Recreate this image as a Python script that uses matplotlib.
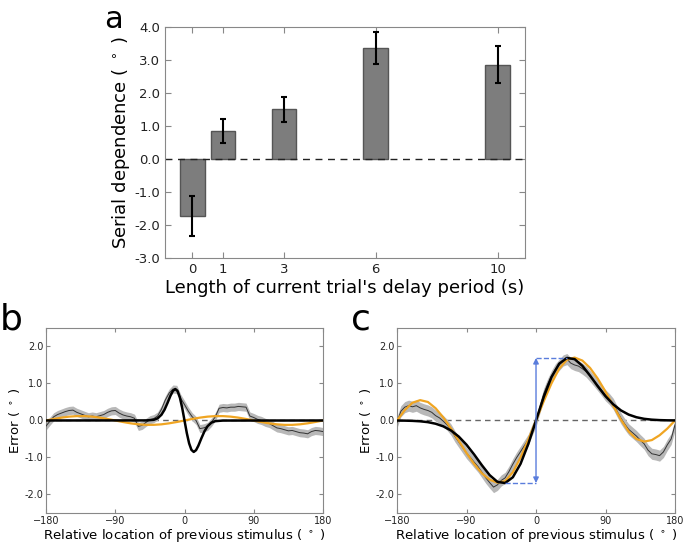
import numpy as np
import matplotlib
matplotlib.use("Agg")
import matplotlib.pyplot as plt

# ---- panel a: serial dependence vs delay length
delays = [0, 1, 3, 6, 10]
sd_mean = [-1.72, 0.85, 1.50, 3.37, 2.85]
sd_err = [0.61, 0.37, 0.38, 0.48, 0.56]

# ---- panel b / c: error vs relative location of previous stimulus
rel_loc = list(range(-180, 181, 5))
b_data = [-0.15, -0.02, 0.10, 0.16, 0.20, 0.24, 0.27, 0.28, 0.22, 0.18, 0.14, 0.10,
          0.12, 0.10, 0.13, 0.16, 0.22, 0.26, 0.27, 0.20, 0.15, 0.12, 0.10, 0.06,
          -0.16, -0.13, -0.05, 0.02, 0.05, 0.12, 0.30, 0.55, 0.74, 0.85, 0.84, 0.60,
          0.43, 0.25, 0.10, 0.00, -0.22, -0.20, -0.16, -0.05, 0.10, 0.33, 0.35, 0.34,
          0.36, 0.36, 0.38, 0.37, 0.36, 0.12, 0.08, 0.03, 0.00, -0.05, -0.08, -0.14,
          -0.20, -0.22, -0.25, -0.28, -0.27, -0.30, -0.33, -0.34, -0.36, -0.30, -0.27,
          -0.28, -0.30]
b_sem = 0.11

c_data = [-0.05, 0.25, 0.36, 0.40, 0.37, 0.40, 0.34, 0.30, 0.27, 0.22, 0.13, 0.07,
          -0.02, -0.12, -0.25, -0.43, -0.58, -0.73, -0.88, -1.00, -1.13, -1.25, -1.40,
          -1.55, -1.68, -1.80, -1.74, -1.62, -1.55, -1.38, -1.18, -1.00, -0.84, -0.68,
          -0.52, -0.25, -0.02, 0.35, 0.72, 0.98, 1.20, 1.38, 1.50, 1.62, 1.66, 1.55,
          1.50, 1.47, 1.40, 1.32, 1.20, 1.08, 0.95, 0.82, 0.68, 0.58, 0.45, 0.25, 0.06,
          -0.10, -0.24, -0.33, -0.42, -0.53, -0.63, -0.80, -0.90, -0.92, -0.95, -0.85,
          -0.66, -0.50, -0.12]
c_sem = 0.15

# model fits
b_fit_x = [-180, -50, -40, -35, -30, -26, -22, -18, -15, -12, -9, -6, -3, 0,
           3, 6, 9, 12, 15, 18, 22, 26, 30, 35, 40, 50, 180]
b_fit_y = [0.0, 0.002, 0.018, 0.058, 0.154, 0.29, 0.478, 0.682, 0.802, 0.85, 0.794, 0.618, 0.34, 0.0,
           -0.34, -0.618, -0.794, -0.85, -0.802, -0.682, -0.478, -0.29, -0.154, -0.058, -0.018, -0.002, 0.0]

fit_x10 = list(range(-180, 181, 10))
b_orange = [0, .041, .077, .104, .118, .118, .104, .077, .041, 0, -.041, -.077, -.104,
            -.118, -.118, -.104, -.077, -.041, 0, .041, .077, .104, .118, .118, .104,
            .077, .041, 0, -.041, -.077, -.104, -.118, -.118, -.104, -.077, -.041, 0]

c_black = [-0.002, -0.004, -0.010, -0.022, -0.045, -0.088, -0.159, -0.272, -0.436,
           -0.656, -0.923, -1.212, -1.478, -1.658, -1.690, -1.534, -1.170, -0.635, 0.0,
           0.635, 1.170, 1.534, 1.690, 1.658, 1.478, 1.212, 0.923, 0.656, 0.436, 0.272,
           0.159, 0.088, 0.045, 0.022, 0.010, 0.004, 0.002]
c_orange = [0.0, 0.28, 0.48, 0.55, 0.50, 0.33, 0.08, -0.22, -0.55, -0.88, -1.18, -1.43,
            -1.60, -1.68, -1.64, -1.40, -1.00, -0.52, 0.0, 0.52, 1.00, 1.40, 1.64, 1.70,
            1.62, 1.42, 1.13, 0.78, 0.40, 0.02, -0.30, -0.50, -0.57, -0.53, -0.40, -0.22, 0.0]

plt.rcParams.update({
    "font.family": "DejaVu Sans",
    "xtick.direction": "in", "ytick.direction": "in",
    "xtick.top": True, "ytick.right": True,
    "xtick.color": "#888888", "ytick.color": "#888888",
    "xtick.labelcolor": "#222222", "ytick.labelcolor": "#222222",
    "axes.edgecolor": "#888888",
})

fig = plt.figure(figsize=(6.85, 5.44), dpi=100)

# ---- a
ax = fig.add_axes([0.2409, 0.5257, 0.5255, 0.4247])
ax.bar(delays, sd_mean, width=0.8, color="#7d7d7d", edgecolor="#555555", linewidth=1)
ax.errorbar(delays, sd_mean, yerr=sd_err, fmt="none", ecolor="black", elinewidth=1.5,
            capsize=2, capthick=1.5)
ax.axhline(0, color="#222222", ls="--", lw=1, dashes=(5, 4))
ax.set_xlim(-0.9, 10.9)
ax.set_ylim(-3, 4)
ax.set_xticks(delays)
ax.set_yticks(range(-3, 5))
ax.set_yticklabels([f"{v:.1f}" for v in range(-3, 5)])
ax.tick_params(labelsize=9.5, length=4)
ax.set_xlabel("Length of current trial's delay period (s)", fontsize=13, labelpad=2)
ax.set_ylabel(r"Serial dependence ( $^\circ$ )", fontsize=13, labelpad=2)


def style_err(ax):
    ax.axhline(0, color="#666666", ls="--", lw=1, dashes=(4, 3), zorder=1)
    ax.set_xlim(-180, 180)
    ax.set_ylim(-2.5, 2.5)
    ax.set_xticks([-180, -90, 0, 90, 180])
    ax.set_yticks([-2, -1, 0, 1, 2])
    ax.set_yticklabels([f"{v:.1f}" for v in [-2, -1, 0, 1, 2]])
    ax.tick_params(labelsize=7, length=3, pad=2)
    ax.set_xlabel(r"Relative location of previous stimulus ( $^\circ$ )", fontsize=9.5, labelpad=1)
    ax.set_ylabel(r"Error ( $^\circ$ )", fontsize=9.5, labelpad=2)


# ---- b
axb = fig.add_axes([0.0672, 0.0570, 0.4043, 0.3401])
bd = np.array(b_data)
axb.fill_between(rel_loc, bd - b_sem, bd + b_sem, color="#b8b8b8", lw=0, zorder=2)
axb.plot(rel_loc, bd, color="#333333", lw=0.7, zorder=3)
axb.plot(fit_x10, b_orange, color="#f0a522", lw=1.6, zorder=4)
axb.plot(b_fit_x, b_fit_y, color="black", lw=1.8, zorder=5)
style_err(axb)

# ---- c
axc = fig.add_axes([0.5796, 0.0570, 0.4058, 0.3401])
cd = np.array(c_data)
axc.fill_between(rel_loc, cd - c_sem, cd + c_sem, color="#b8b8b8", lw=0, zorder=2)
axc.plot(rel_loc, cd, color="#333333", lw=0.7, zorder=3)
axc.plot(fit_x10, c_orange, color="#f0a522", lw=1.6, zorder=4)
axc.plot(fit_x10, c_black, color="black", lw=1.8, zorder=5)
i_max, i_min = int(np.argmax(c_black)), int(np.argmin(c_black))
blue = "#5a7ddc"
axc.plot([0, fit_x10[i_max]], [c_black[i_max]] * 2, ls="--", color=blue, lw=1, zorder=6)
axc.plot([fit_x10[i_min], 0], [c_black[i_min]] * 2, ls="--", color=blue, lw=1, zorder=6)
axc.annotate("", xy=(0, c_black[i_max]), xytext=(0, c_black[i_min]),
             arrowprops=dict(arrowstyle="<|-|>", color=blue, lw=1, mutation_scale=8,
                             shrinkA=0, shrinkB=0), zorder=6)
style_err(axc)

fig.text(0.152, 0.948, "a", fontsize=22, ha="left", va="baseline")
fig.text(0.0, 0.3934, "b", fontsize=26, ha="left", va="baseline")
fig.text(0.512, 0.3934, "c", fontsize=26, ha="left", va="baseline")

fig.savefig("out.png", dpi=100)
